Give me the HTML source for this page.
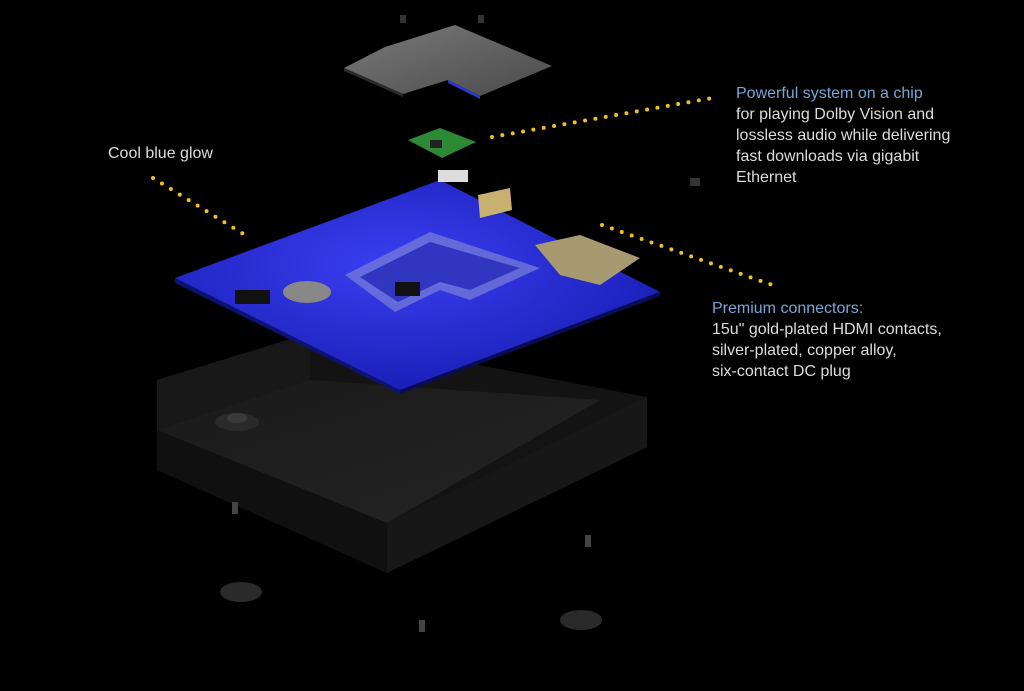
<!DOCTYPE html>
<html><head><meta charset="utf-8"><style>
html,body{margin:0;padding:0;background:#000;width:1024px;height:691px;overflow:hidden}
svg{display:block}
text{font-family:"Liberation Sans",sans-serif;font-size:16px;fill:#dcdcdc}
.b{fill:#77a6d6}
</style></head><body>
<svg width="1024" height="691" viewBox="0 0 1024 691">
<defs>
<linearGradient id="plate" x1="0" y1="0" x2="1" y2="1"><stop offset="0" stop-color="#7a7a7a"/><stop offset="1" stop-color="#4a4a4a"/></linearGradient>
<radialGradient id="pcb" cx="0.45" cy="0.4" r="0.6"><stop offset="0" stop-color="#3a3ff0"/><stop offset="1" stop-color="#1a1fb8"/></radialGradient>
<linearGradient id="floor" x1="0" y1="0" x2="1" y2="1"><stop offset="0" stop-color="#1a1a1a"/><stop offset="1" stop-color="#242424"/></linearGradient>
</defs>
<!-- top plate -->
<polygon points="344,68 385,47 455,25 552,66 480,96 448,80 403,94" fill="url(#plate)"/>
<polygon points="344,68 403,94 403,97 344,71" fill="#2a2a2a"/>
<polygon points="448,80 480,96 480,99 448,83" fill="#2a36d0"/>
<rect x="400" y="15" width="6" height="8" fill="#333"/><rect x="478" y="15" width="6" height="8" fill="#333"/>
<!-- green chip -->
<polygon points="408,140 440,128 476,142 442,158" fill="#2c8a35"/>
<rect x="430" y="140" width="12" height="8" fill="#222"/>
<!-- enclosure -->
<polygon points="157,380 310,333 647,397 647,447 387,573 157,470" fill="#131313"/>
<polygon points="157,430 310,380 600,400 387,523" fill="url(#floor)"/>
<polygon points="157,380 310,333 310,380 157,430" fill="#181818"/>
<polygon points="387,523 647,397 647,447 387,573" fill="#171717"/>
<polygon points="157,430 387,523 387,573 157,470" fill="#101010"/>
<ellipse cx="237" cy="422" rx="22" ry="9" fill="#2a2a2a"/>
<ellipse cx="237" cy="418" rx="10" ry="5" fill="#3a3a3a"/>
<!-- PCB -->
<polygon points="175,278 440,180 660,292 400,390" fill="url(#pcb)"/>
<polygon points="175,278 400,390 400,394 175,283" fill="#0e1270"/>
<polygon points="400,390 660,292 660,296 400,394" fill="#0a0d55"/>
<polygon points="345,275 430,232 540,268 470,300 440,290 395,312" fill="#7a80d8" opacity="0.7"/>
<polygon points="360,277 430,242 520,268 470,290 440,282 398,302" fill="#3036c0"/>
<ellipse cx="307" cy="292" rx="24" ry="11" fill="#888"/>
<polygon points="535,245 580,235 640,258 600,285 560,275" fill="#a89a70"/>
<polygon points="478,195 510,188 512,210 480,218" fill="#c8b070"/>
<rect x="438" y="170" width="30" height="12" fill="#ddd"/>
<rect x="235" y="290" width="35" height="14" fill="#111"/>
<rect x="395" y="282" width="25" height="14" fill="#111"/>
<!-- feet/screws -->
<ellipse cx="241" cy="592" rx="21" ry="10" fill="#2a2a2a"/>
<ellipse cx="581" cy="620" rx="21" ry="10" fill="#2a2a2a"/>
<rect x="232" y="502" width="6" height="12" fill="#444"/>
<rect x="585" y="535" width="6" height="12" fill="#444"/>
<rect x="419" y="620" width="6" height="12" fill="#444"/>
<rect x="690" y="178" width="10" height="8" fill="#333"/>
<!-- dotted leaders -->
<g fill="none" stroke="#f0c020" stroke-width="4" stroke-linecap="round" stroke-dasharray="0 10.5">
<line x1="153" y1="178" x2="245" y2="235"/>
<line x1="492" y1="137" x2="718" y2="97"/>
<line x1="602" y1="225" x2="778" y2="287"/>
</g>
<text x="108" y="158">Cool blue glow</text>
<text x="736" y="98" class="b">Powerful system on a chip</text>
<text x="736" y="119">for playing Dolby Vision and</text>
<text x="736" y="140">lossless audio while delivering</text>
<text x="736" y="161">fast downloads via gigabit</text>
<text x="736" y="182">Ethernet</text>
<text x="712" y="313" class="b">Premium connectors:</text>
<text x="712" y="334">15u" gold-plated HDMI contacts,</text>
<text x="712" y="355">silver-plated, copper alloy,</text>
<text x="712" y="376">six-contact DC plug</text>
</svg>
</body></html>
